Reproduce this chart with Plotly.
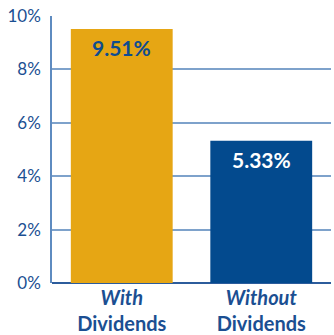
import plotly.graph_objects as go

categories = ["<b><i>With</i></b><br><b>Dividends</b>", "<b><i>Without</i></b><br><b>Dividends</b>"]
values = [9.51, 5.33]
value_labels = ["9.51%", "5.33%"]
bar_colors = ["#E6A614", "#034A8E"]
label_colors = ["#0F4C8F", "#FFFFFF"]
tick_vals = [0, 2, 4, 6, 8, 10]
tick_text = ["0%", "2%", "4%", "6%", "8%", "10%"]

navy = "#1B4F92"
fig = go.Figure()
fig.add_trace(go.Bar(x=categories, y=values, marker=dict(color=bar_colors, line=dict(width=0)),
                     hoverinfo="skip"))

for c, v, t, col in zip(categories, values, value_labels, label_colors):
    fig.add_annotation(x=c, y=v, text=f"<b>{t}</b>", showarrow=False, yanchor="top", yshift=-4,
                       font=dict(family="Lato", size=21, color=col))

fig.update_layout(
    width=334, height=335,
    margin=dict(l=52, r=3, t=16, b=52),
    paper_bgcolor="white", plot_bgcolor="white",
    bargap=0.27,
    showlegend=False,
    font=dict(family="Lato", color=navy),
    xaxis=dict(range=[-0.5, 1.5], showgrid=False, showline=False, ticks="",
               automargin=False, ticklabelstandoff=1,
               tickfont=dict(family="Lato", size=20, color=navy)),
    yaxis=dict(range=[0, 10], tickvals=tick_vals, ticktext=tick_text,
               showgrid=True, gridcolor="#7EA2CB", gridwidth=1.5,
               showline=True, linecolor="#5E8BC0", linewidth=1.5,
               zeroline=True, zerolinecolor="#2C5C9C", zerolinewidth=2,
               ticks="", ticklabelstandoff=6, automargin=False,
               tickfont=dict(family="Lato", size=17, color=navy)),
)
fig.write_html("out.html", config={"displayModeBar": False},
               post_script="document.body.style.margin='0';document.body.style.overflow='hidden';")
